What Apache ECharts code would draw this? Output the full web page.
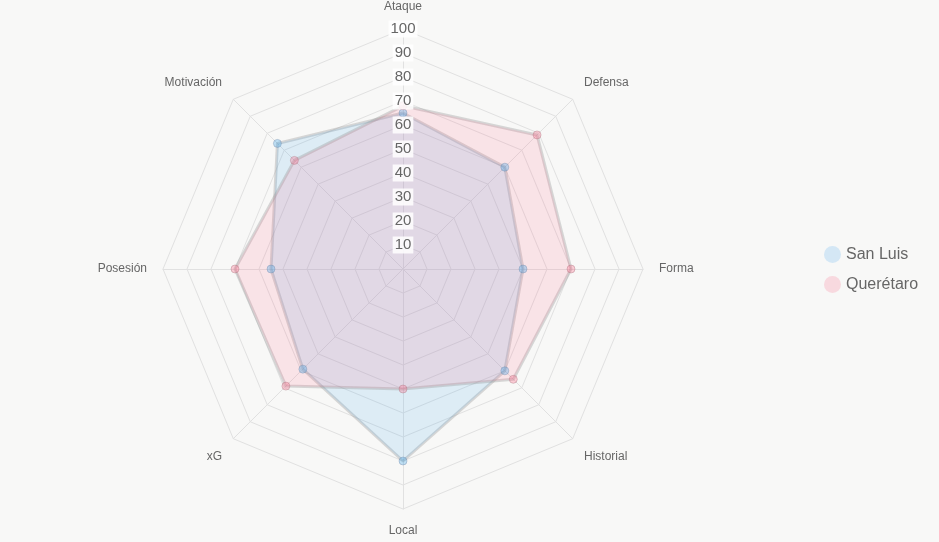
<!DOCTYPE html>
<html>
<head>
<meta charset="utf-8">
<script src="https://cdn.jsdelivr.net/npm/echarts@6/dist/echarts.min.js"></script>
<style>
  html, body { margin: 0; padding: 0; background: #f8f8f7; }
  #chart { width: 939px; height: 542px; }
</style>
</head>
<body>
<div id="chart"></div>
<script>
// 指标与数据（顺时针顺序）
const indicators = ['Ataque', 'Defensa', 'Forma', 'Historial', 'Local', 'xG', 'Posesión', 'Motivación'];
const sanLuis = [65, 60, 50, 60, 80, 59, 55, 74];
const queretaro = [68, 79, 70, 65, 50, 69, 70, 64];
const seriesNames = ['San Luis', 'Querétaro'];

// ECharts 雷达图是逆时针排列的，这里把顺序翻过来
const cw = arr => [arr[0]].concat(arr.slice(1).reverse());

const chart = echarts.init(document.getElementById('chart'));
const font = '"Liberation Sans", Arial, sans-serif';
const nameBase = { color: '#666', fontSize: 12, fontFamily: font };

const option = {
  backgroundColor: '#f8f8f7',
  legend: {
    orient: 'vertical',
    left: 819,
    top: 241,
    itemWidth: 17,
    itemHeight: 17,
    itemGap: 13,
    icon: 'circle',
    textStyle: { fontSize: 16, color: '#666', fontFamily: font },
    data: [
      { name: seriesNames[0], itemStyle: { color: '#d4e7f5', borderWidth: 0 } },
      { name: seriesNames[1], itemStyle: { color: '#f8d9df', borderWidth: 0 } }
    ]
  },
  radar: {
    center: [403, 269],
    radius: 240,
    startAngle: 90,
    shape: 'polygon',
    splitNumber: 10,
    indicator: cw(indicators).map(n => ({ name: n, min: 0, max: 100 })),
    axisName: {
      color: '#666', fontSize: 12, fontFamily: font,
      // 斜向标签稍微往外推一点
      formatter: function (name) {
        if (name === 'Defensa' || name === 'Motivación') return '{up|' + name + '}';
        if (name === 'Historial' || name === 'xG') return '{down|' + name + '}';
        return name;
      },
      rich: {
        up: Object.assign({ padding: [0, 0, 10, 0] }, nameBase),
        down: Object.assign({ padding: [14, 0, 0, 0] }, nameBase)
      }
    },
    nameGap: 16,
    splitLine: { lineStyle: { color: '#e1e1e1', width: 1 } },
    splitArea: { show: false },
    axisLine: { lineStyle: { color: '#e1e1e1', width: 1 } }
  },
  polar: { center: [403, 269], radius: 240 },
  angleAxis: { show: false, startAngle: 90, type: 'value', min: 0, max: 360 },
  radiusAxis: {
    type: 'value', min: 0, max: 100, interval: 10,
    axisLine: { show: false },
    axisTick: { show: false },
    splitLine: { show: false },
    axisLabel: {
      showMinLabel: false,
      color: '#666',
      fontSize: 15,
      fontFamily: font,
      backgroundColor: 'rgba(255,255,255,0.85)',
      padding: [1, 2],
      margin: 0,
      align: 'center',
      verticalAlign: 'middle'
    },
    z: 10
  },
  series: [
    {
      type: 'radar',
      symbol: 'circle',
      symbolSize: 8,
      data: [
        {
          name: seriesNames[0],
          value: cw(sanLuis),
          itemStyle: { color: 'rgba(54,162,235,0.3)', borderColor: 'rgba(120,140,170,0.4)', borderWidth: 1 },
          lineStyle: { color: 'rgba(150,150,150,0.35)', width: 3 },
          areaStyle: { color: 'rgba(54,162,235,0.2)' }
        },
        {
          name: seriesNames[1],
          value: cw(queretaro),
          itemStyle: { color: 'rgba(255,99,132,0.3)', borderColor: 'rgba(170,120,130,0.4)', borderWidth: 1 },
          lineStyle: { color: 'rgba(150,150,150,0.35)', width: 3 },
          areaStyle: { color: 'rgba(255,99,132,0.2)' }
        }
      ]
    }
  ]
};

chart.setOption(option);
</script>
</body>
</html>
